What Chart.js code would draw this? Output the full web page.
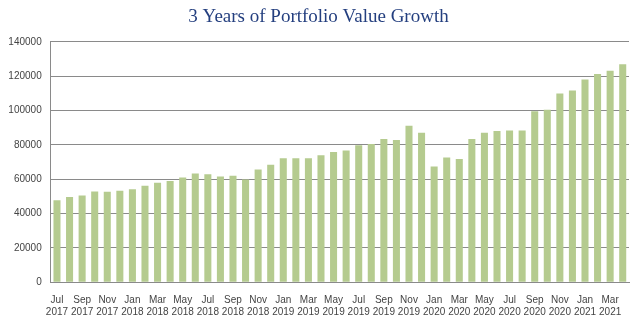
<!DOCTYPE html>
<html>
<head>
<meta charset="utf-8">
<script src="https://cdn.jsdelivr.net/npm/chart.js@4"></script>
<style>
  html, body { margin: 0; padding: 0; background: #fff; }
  #wrap { width: 640px; height: 329px; }
</style>
</head>
<body>
<div id="wrap"><canvas id="growthChart"></canvas></div>
<script>
// Month categories, Jul 2017 - Apr 2021
const months = [
    'Jul 2017', 'Aug 2017', 'Sep 2017', 'Oct 2017', 'Nov 2017', 'Dec 2017',
    'Jan 2018', 'Feb 2018', 'Mar 2018', 'Apr 2018', 'May 2018', 'Jun 2018',
    'Jul 2018', 'Aug 2018', 'Sep 2018', 'Oct 2018', 'Nov 2018', 'Dec 2018',
    'Jan 2019', 'Feb 2019', 'Mar 2019', 'Apr 2019', 'May 2019', 'Jun 2019',
    'Jul 2019', 'Aug 2019', 'Sep 2019', 'Oct 2019', 'Nov 2019', 'Dec 2019',
    'Jan 2020', 'Feb 2020', 'Mar 2020', 'Apr 2020', 'May 2020', 'Jun 2020',
    'Jul 2020', 'Aug 2020', 'Sep 2020', 'Oct 2020', 'Nov 2020', 'Dec 2020',
    'Jan 2021', 'Feb 2021', 'Mar 2021', 'Apr 2021'
];

// Portfolio value at each month
const portfolioValues = [
    47700, 49600, 50600, 52900, 52700, 53300,
    54100, 56200, 57900, 58900, 61000, 63300,
    62900, 61600, 62000, 59900, 65700, 68500,
    72200, 72200, 72200, 74000, 75900, 76700,
    79800, 80500, 83400, 82800, 91100, 87000,
    67400, 72600, 71800, 83400, 87100, 88100,
    88400, 88400, 99600, 100400, 109900, 111600,
    118000, 121300, 123200, 126900
];

// y axis ticks
const yTicks = [0, 20000, 40000, 60000, 80000, 100000, 120000, 140000];

const labelFont = { family: 'Liberation Sans', size: 10 };

const ctx = document.getElementById('growthChart').getContext('2d');
new Chart(ctx, {
    type: 'bar',
    data: {
        labels: months,
        datasets: [{
            label: 'Portfolio Value',
            data: portfolioValues,
            backgroundColor: '#b5cb8f',
            barPercentage: 0.56,
            categoryPercentage: 1.0
        }]
    },
    options: {
        responsive: true,
        maintainAspectRatio: false,
        animation: false,
        layout: { padding: { left: 8, right: 11, top: 0, bottom: 0 } },
        plugins: {
            legend: { display: false },
            tooltip: { enabled: false },
            title: {
                display: true,
                text: '3 Years of Portfolio Value Growth',
                color: '#243f7f',
                font: { family: 'Liberation Serif', size: 19, weight: 'normal' },
                padding: { top: 6, bottom: 13 }
            }
        },
        scales: {
            x: {
                grid: { display: false, drawTicks: false },
                border: { display: true, color: '#8a8a8a' },
                ticks: {
                    autoSkip: false,
                    maxRotation: 0,
                    minRotation: 0,
                    padding: 12,
                    color: '#444',
                    font: labelFont,
                    callback: function (val, i) {
                        if (i % 2 !== 0) return '';
                        return months[i].split(' ');
                    }
                },
                afterFit: function (scale) { scale.height = 46.7; }
            },
            y: {
                min: 0,
                max: 140000,
                afterBuildTicks: function (scale) {
                    scale.ticks = yTicks.map(v => ({ value: v }));
                },
                grid: { color: '#8a8a8a', drawTicks: false },
                border: { display: true, color: '#8a8a8a' },
                ticks: {
                    padding: 9,
                    color: '#444',
                    font: labelFont,
                    callback: v => String(v)
                },
                afterFit: function (scale) { scale.width = 42.7; }
            }
        }
    }
});
</script>
</body>
</html>
